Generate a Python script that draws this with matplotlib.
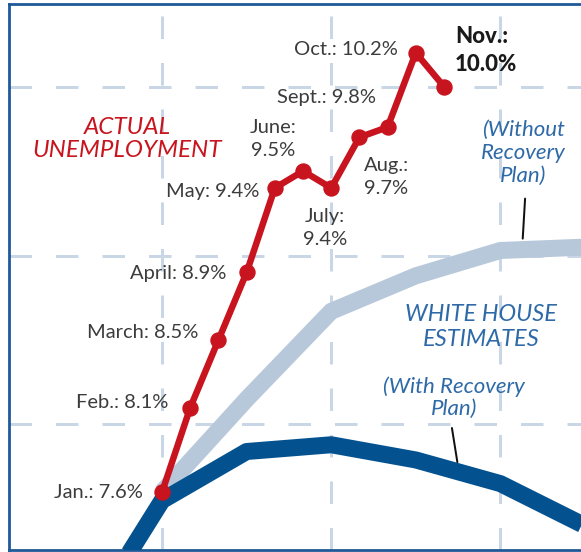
import numpy as np
import matplotlib.pyplot as plt

# ---- data ----
month_idx = [0, 1, 2, 3, 4, 5, 6, 7, 8, 9, 10]          # Jan .. Nov 2009
actual_rate = [7.6, 8.1, 8.5, 8.9, 9.4, 9.5, 9.4, 9.7, 9.76, 10.2, 10.0]
actual_labels = ["Jan.: 7.6%", "Feb.: 8.1%", "March: 8.5%", "April: 8.9%",
                 "May: 9.4%", "June:\n9.5%", "July:\n9.4%", "Aug.:\n9.7%",
                 "Sept.: 9.8%", "Oct.: 10.2%", "Nov.:\n10.0%"]

without_months = [0, 3, 6, 9, 12, 15]
without_plan = [7.6, 8.15, 8.67, 8.88, 9.03, 9.05]

with_months = [-3, 0, 3, 6, 9, 12, 15]
with_plan = [6.75, 7.55, 7.84, 7.88, 7.79, 7.65, 7.40]

grid_x = [0, 6, 12]
grid_y = [8, 9, 10]

# colours
RED = '#c8141e'
DARK = '#03528f'
LIGHT = '#b8c8db'
GRID = '#c9d6e5'
BLUE_TXT = '#2e6aa8'
GRAY_TXT = '#3c3c3c'

W, H, DPI = 581, 552, 100
PT = 72.0 / DPI   # pixels -> points

def fx(x):
    return x / W

def fy(y):
    return 1 - y / H

fig = plt.figure(figsize=(W / DPI, H / DPI), dpi=DPI)
ax = fig.add_axes([fx(9), fy(550), 1 - fx(9), fy(4) - fy(550)])
ax.set_xlim(-5.43, 14.86)
ax.set_ylim(7.257, 10.489)
ax.set_xticks([])
ax.set_yticks([])
for side in ['left', 'top', 'bottom']:
    ax.spines[side].set_color('#1d5a97')
    ax.spines[side].set_linewidth(2.0)
ax.spines['right'].set_visible(False)

# dashed grid
for gx in grid_x:
    ax.axvline(gx, color=GRID, lw=3 * PT, dashes=(7.5, 8), zorder=1)
for gy in grid_y:
    ax.axhline(gy, color=GRID, lw=3 * PT, dashes=(7.5, 8), zorder=1)

# estimate lines
ax.plot(without_months, without_plan, color=LIGHT, lw=17 * PT,
        solid_joinstyle='round', solid_capstyle='butt', zorder=2)
ax.plot(with_months, with_plan, color=DARK, lw=17 * PT,
        solid_joinstyle='round', solid_capstyle='butt', zorder=3)

# actual unemployment
ax.plot(month_idx, actual_rate, color=RED, lw=6.5 * PT, marker='o',
        markersize=15 * PT, solid_joinstyle='round', zorder=4)

# point labels: (dx, dy) in pixels, alignment
lab_style = [
    (-19, 0, 'right'), (-22, 5, 'right'), (-20, 8, 'right'), (-20, -1, 'right'),
    (-15, -4, 'right'), (-30, 32, 'center'), (-6, -40, 'center'),
    (27, -40, 'center'), (-12, 30, 'right'), (-18, 3, 'right'), (11, 36, 'left'),
]
for i, (m, v, txt) in enumerate(zip(month_idx, actual_rate, actual_labels)):
    dx, dy, ha = lab_style[i]
    if i == len(month_idx) - 1:
        ax.annotate(txt, (m, v), xytext=(dx * PT, dy * PT), textcoords='offset points',
                    ha=ha, va='center', fontsize=16, fontweight='black', color='#1a1a1a',
                    family='Lato', linespacing=1.4, zorder=5)
    else:
        ax.annotate(txt, (m, v), xytext=(dx * PT, dy * PT), textcoords='offset points',
                    ha=ha, va='center', fontsize=14.5, fontweight='normal', color=GRAY_TXT,
                    family='Lato', linespacing=1.45, zorder=5)

# series titles
fig.text(fx(127), fy(139), "ACTUAL\nUNEMPLOYMENT", ha='center', va='center',
         color=RED, fontsize=17.5, style='italic', family='Lato', linespacing=1.15)
fig.text(fx(523), fy(153), "(Without\nRecovery\nPlan)", ha='center', va='center',
         color=BLUE_TXT, fontsize=16, style='italic', family='Lato', linespacing=1.2)
fig.text(fx(481), fy(327), "WHITE HOUSE\nESTIMATES", ha='center', va='center',
         color=BLUE_TXT, fontsize=17, style='italic', family='Lato', linespacing=1.2)
fig.text(fx(454), fy(398), "(With Recovery\nPlan)", ha='center', va='center',
         color=BLUE_TXT, fontsize=16, style='italic', family='Lato', linespacing=1.1)

# leader lines to the estimate curves
m1 = 12.77
ax.annotate('', (m1, np.interp(m1, without_months, without_plan)),
            xytext=(3 * PT, 51 * PT), textcoords='offset points',
            arrowprops=dict(arrowstyle='-', color='#111111', lw=2 * PT,
                            shrinkA=0, shrinkB=11 * PT), zorder=5)
m2 = 10.53
ax.annotate('', (m2, np.interp(m2, with_months, with_plan)),
            xytext=(-7 * PT, 44 * PT), textcoords='offset points',
            arrowprops=dict(arrowstyle='-', color='#111111', lw=2 * PT,
                            shrinkA=0, shrinkB=10 * PT), zorder=5)

fig.savefig('out.png', dpi=DPI)
